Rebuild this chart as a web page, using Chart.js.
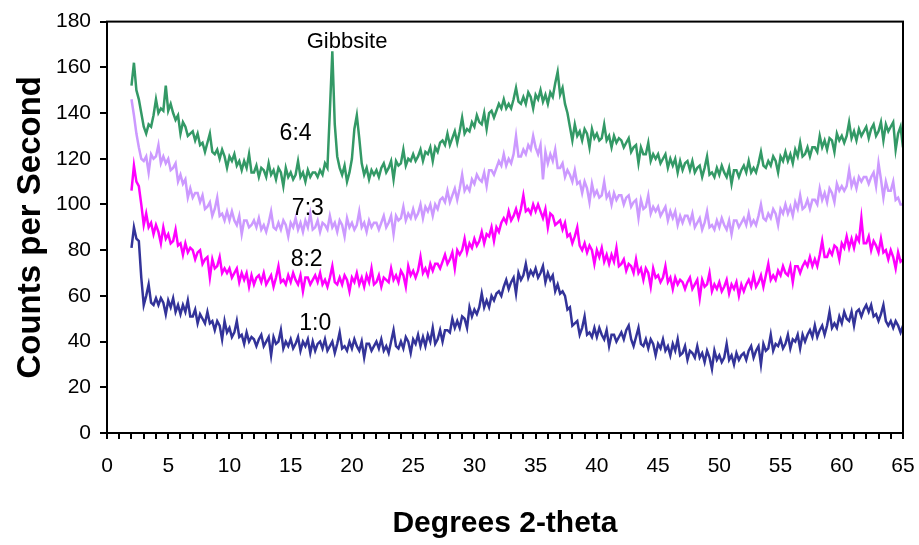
<!DOCTYPE html>
<html>
<head>
<meta charset="utf-8">
<title>XRD patterns</title>
<script src="https://cdn.jsdelivr.net/npm/chart.js@4.4.1/dist/chart.umd.min.js"></script>
<style>
  html, body { margin: 0; padding: 0; background: #fff; }
</style>
</head>
<body>
<canvas id="xrdChart" width="919" height="545"></canvas>
<script>
// scan grid: 2.0 to 65.0 degrees 2-theta, 0.2 degree step
const scanStart = 2;
const scanStep = 0.2;
const scanPoints = 316;

// counts per second, one row per 5 degrees (last row 62.0-65.0)
const counts10 = [
  81, 90, 85, 84, 68, 56, 60, 65, 57, 56, 59, 56, 59, 57, 52, 58, 55, 59, 53, 56, 52, 56, 53, 58, 51,
  51, 54, 48, 52, 50, 48, 53, 48, 49, 45, 49, 47, 41, 49, 44, 46, 42, 44, 49, 42, 43, 39, 44, 40, 42,
  41, 38, 41, 43, 38, 40, 42, 34, 42, 39, 40, 45, 37, 40, 38, 41, 37, 39, 42, 36, 40, 38, 41, 35, 40,
  36, 39, 40, 37, 41, 36, 38, 40, 35, 39, 44, 37, 38, 36, 40, 37, 41, 38, 36, 40, 33, 39, 39, 36, 38,
  40, 37, 41, 36, 38, 35, 40, 45, 38, 37, 40, 37, 42, 40, 35, 41, 39, 43, 38, 42, 38, 43, 40, 46, 39,
  41, 45, 40, 45, 45, 44, 50, 46, 49, 46, 51, 50, 46, 55, 51, 54, 52, 55, 61, 55, 58, 55, 60, 58, 61,
  62, 60, 64, 67, 63, 66, 68, 61, 70, 67, 69, 74, 68, 71, 69, 72, 68, 70, 73, 66, 70, 67, 69, 62, 65,
  61, 62, 60, 54, 55, 47, 48, 49, 43, 46, 51, 43, 44, 42, 46, 42, 46, 43, 41, 45, 38, 43, 43, 40, 42,
  44, 41, 45, 47, 41, 38, 42, 46, 39, 38, 41, 37, 41, 39, 34, 39, 37, 41, 36, 38, 34, 39, 36, 41, 34,
  35, 38, 32, 36, 35, 33, 38, 33, 35, 31, 36, 33, 28, 36, 32, 34, 31, 33, 39, 32, 34, 30, 35, 32, 34,
  35, 32, 36, 38, 33, 36, 38, 30, 39, 36, 37, 43, 36, 39, 38, 41, 37, 39, 43, 37, 41, 40, 43, 37, 43,
  40, 43, 45, 42, 47, 42, 45, 47, 43, 47, 53, 46, 48, 46, 51, 48, 53, 50, 49, 53, 47, 53, 54, 51, 54,
  56, 53, 56, 51, 52, 49, 52, 56, 49, 47, 49, 46, 49, 47, 44, 47
];

const counts82 = [
  106, 117, 110, 108, 100, 91, 96, 90, 92, 87, 91, 88, 83, 90, 85, 87, 83, 84, 89, 82, 83, 78, 83, 79, 81,
  80, 76, 79, 80, 74, 76, 77, 68, 76, 72, 73, 77, 70, 72, 70, 72, 68, 70, 72, 66, 70, 67, 70, 64, 69,
  65, 68, 69, 66, 70, 65, 67, 69, 64, 68, 73, 66, 67, 65, 69, 66, 70, 67, 65, 69, 62, 68, 68, 65, 67,
  69, 66, 70, 65, 67, 64, 68, 73, 66, 65, 68, 65, 69, 67, 62, 68, 66, 70, 65, 68, 64, 69, 66, 72, 65,
  66, 69, 64, 68, 67, 66, 72, 67, 69, 66, 71, 69, 64, 73, 69, 71, 68, 71, 77, 70, 72, 69, 74, 71, 74,
  74, 72, 75, 78, 74, 76, 79, 72, 80, 78, 80, 85, 79, 83, 81, 85, 82, 84, 88, 83, 87, 86, 90, 84, 90,
  88, 92, 94, 92, 97, 93, 95, 98, 94, 98, 104, 97, 98, 96, 100, 97, 100, 97, 94, 98, 90, 96, 95, 91, 92,
  93, 89, 92, 86, 87, 83, 86, 90, 82, 80, 83, 79, 82, 80, 74, 80, 77, 81, 75, 78, 74, 78, 75, 81, 73,
  74, 76, 71, 74, 73, 70, 76, 70, 72, 67, 72, 70, 64, 72, 68, 69, 66, 68, 73, 66, 68, 63, 68, 65, 67,
  66, 63, 66, 68, 63, 65, 67, 59, 67, 64, 65, 70, 62, 65, 63, 66, 62, 64, 67, 61, 65, 63, 66, 60, 65,
  62, 65, 67, 64, 69, 64, 66, 69, 64, 69, 74, 67, 69, 67, 71, 69, 73, 70, 69, 73, 66, 73, 73, 70, 73,
  75, 73, 77, 73, 76, 73, 78, 84, 77, 77, 80, 78, 82, 81, 76, 83, 81, 86, 81, 85, 81, 86, 84, 94, 83,
  83, 86, 80, 84, 82, 79, 85, 79, 80, 76, 80, 77, 72, 79, 75, 76
];

const counts73 = [
  146, 139, 131, 125, 120, 119, 121, 114, 122, 120, 121, 126, 118, 121, 118, 120, 115, 116, 118, 110, 113, 109, 111, 103, 107,
  103, 105, 105, 101, 104, 98, 99, 101, 95, 98, 103, 95, 96, 93, 97, 93, 97, 93, 91, 95, 87, 93, 93, 90, 91,
  93, 90, 94, 89, 91, 88, 92, 97, 90, 89, 92, 89, 93, 91, 86, 92, 90, 94, 89, 92, 88, 93, 90, 96, 89,
  90, 93, 88, 92, 91, 89, 95, 90, 92, 88, 93, 91, 86, 94, 90, 92, 89, 91, 97, 90, 92, 88, 93, 90, 92,
  92, 89, 92, 95, 90, 92, 95, 87, 95, 93, 94, 99, 93, 96, 94, 98, 94, 96, 100, 94, 99, 97, 100, 95, 100,
  98, 102, 103, 101, 106, 101, 104, 107, 102, 107, 113, 106, 108, 106, 111, 109, 113, 111, 110, 114, 108, 115, 115, 113, 116,
  119, 117, 122, 117, 120, 118, 122, 130, 121, 121, 124, 122, 126, 124, 130, 125, 122, 126, 111, 123, 118, 122, 119, 124, 116,
  116, 118, 112, 115, 113, 110, 115, 109, 110, 105, 110, 107, 101, 109, 104, 106, 103, 104, 110, 103, 105, 100, 105, 102, 104,
  104, 100, 103, 104, 99, 101, 102, 94, 102, 98, 99, 104, 96, 99, 97, 99, 95, 97, 99, 93, 97, 94, 97, 91, 95,
  92, 95, 95, 92, 96, 90, 92, 94, 89, 92, 97, 90, 91, 89, 93, 90, 94, 91, 89, 93, 87, 93, 93, 90, 92,
  94, 91, 96, 91, 93, 91, 95, 100, 94, 93, 96, 94, 98, 96, 91, 98, 96, 100, 96, 99, 95, 101, 98, 104, 98,
  99, 102, 98, 102, 102, 100, 107, 102, 105, 101, 107, 105, 101, 109, 106, 108, 106, 108, 115, 108, 111, 107, 112, 110, 112,
  112, 109, 112, 114, 108, 118, 111, 103, 110, 106, 106, 110, 102, 103, 100, 100
];

const counts64 = [
  152, 162, 150, 146, 140, 134, 131, 135, 134, 139, 146, 140, 142, 141, 152, 141, 144, 140, 137, 139, 131, 136, 134, 130, 131,
  132, 128, 131, 126, 127, 123, 127, 131, 123, 122, 124, 120, 124, 121, 116, 121, 119, 122, 117, 119, 115, 119, 116, 122, 114,
  114, 117, 112, 116, 115, 112, 118, 113, 115, 111, 116, 114, 108, 116, 112, 114, 111, 113, 119, 112, 114, 110, 115, 112, 114,
  114, 112, 115, 113, 118, 116, 141, 167, 135, 121, 116, 113, 117, 110, 114, 120, 133, 139, 129, 118, 113, 116, 111, 115, 113,
  115, 112, 116, 118, 114, 116, 119, 111, 119, 117, 118, 124, 117, 120, 119, 122, 119, 121, 124, 119, 123, 122, 125, 119, 125,
  123, 127, 128, 126, 131, 126, 129, 132, 127, 132, 138, 131, 133, 132, 136, 134, 139, 136, 135, 140, 133, 140, 141, 138, 141,
  144, 142, 146, 142, 144, 142, 146, 151, 145, 144, 147, 144, 149, 147, 142, 148, 146, 150, 145, 148, 144, 149, 147, 153, 158,
  148, 151, 144, 140, 134, 128, 135, 130, 132, 128, 133, 131, 125, 133, 129, 131, 128, 129, 135, 128, 130, 125, 130, 127, 129,
  128, 125, 127, 129, 123, 125, 126, 118, 125, 122, 122, 127, 119, 122, 120, 122, 118, 120, 122, 116, 120, 117, 120, 114, 119,
  115, 118, 119, 115, 119, 114, 116, 117, 112, 116, 121, 113, 114, 112, 116, 113, 117, 114, 112, 116, 109, 115, 115, 112, 115,
  117, 114, 119, 114, 116, 114, 118, 123, 117, 116, 119, 117, 121, 119, 114, 121, 119, 123, 119, 122, 118, 124, 121, 127, 121,
  122, 125, 121, 125, 125, 123, 130, 125, 128, 124, 129, 128, 123, 131, 128, 130, 127, 130, 136, 129, 132, 128, 133, 130, 132,
  134, 129, 133, 135, 130, 132, 136, 128, 135, 132, 134, 136, 124, 131, 134, 125
];

const sampleLabels = ['1:0', '8:2', '7:3', '6:4'];
const sampleColors = ['#333399', '#ff00ff', '#cc99ff', '#339966'];
const sampleCounts = [counts10, counts82, counts73, counts64];

// where each curve's ratio label sits, in axis units [2-theta, counts]
const labelSpots = [[17.0, 48], [16.3, 76], [16.4, 98], [15.4, 131]];
const peakNote = { text: 'Gibbsite', at: [19.6, 171] };

const twoTheta = [];
for (let i = 0; i < scanPoints; i++) twoTheta.push(+(scanStart + i * scanStep).toFixed(2));

const FONT = '"Liberation Sans", Arial, Helvetica, sans-serif';

// box round the plot area
const frame = {
  id: 'frame',
  afterDraw(chart) {
    const { ctx, chartArea: a } = chart;
    ctx.save();
    ctx.strokeStyle = '#000';
    ctx.lineWidth = 2;
    ctx.strokeRect(a.left, a.top, a.right - a.left, a.bottom - a.top);
    ctx.restore();
  }
};

// ratio labels next to the curves and the gibbsite note
const curveLabels = {
  id: 'curveLabels',
  afterDatasetsDraw(chart) {
    const { ctx, scales } = chart;
    ctx.save();
    ctx.fillStyle = '#000';
    ctx.font = '23px ' + FONT;
    ctx.textAlign = 'center';
    ctx.textBaseline = 'middle';
    labelSpots.forEach((p, i) => {
      ctx.fillText(sampleLabels[i], scales.x.getPixelForValue(p[0]), scales.y.getPixelForValue(p[1]));
    });
    ctx.font = '22px ' + FONT;
    ctx.fillText(peakNote.text, scales.x.getPixelForValue(peakNote.at[0]), scales.y.getPixelForValue(peakNote.at[1]));
    ctx.restore();
  }
};

const ctx = document.getElementById('xrdChart').getContext('2d');

new Chart(ctx, {
  type: 'line',
  data: {
    datasets: sampleCounts.map((vals, i) => ({
      label: sampleLabels[i],
      data: twoTheta.map((x, j) => ({ x: x, y: vals[j] })),
      borderColor: sampleColors[i],
      borderWidth: 2.5,
      pointRadius: 0,
      tension: 0,
      fill: false
    }))
  },
  options: {
    responsive: false,
    animation: false,
    layout: { padding: { top: 20, right: 16, left: 0, bottom: 0 } },
    plugins: {
      legend: { display: false },
      tooltip: { enabled: false }
    },
    scales: {
      x: {
        type: 'linear',
        min: 0,
        max: 65,
        ticks: {
          stepSize: 1,
          autoSkip: false,
          maxRotation: 0,
          color: '#000',
          padding: 15,
          font: { family: FONT, size: 21 },
          callback: v => (v % 5 === 0 ? v : '')
        },
        grid: { drawOnChartArea: false, tickLength: 6, color: '#000', lineWidth: 2 },
        border: { color: '#000', width: 2 },
        title: {
          display: true,
          text: 'Degrees 2-theta',
          color: '#000',
          padding: 3,
          font: { family: FONT, size: 30, weight: 'bold' }
        },
        afterFit: s => {
          s.height = 112;
          s.paddingLeft = 0;
          s.paddingRight = 0;
        }
      },
      y: {
        min: 0,
        max: 180,
        ticks: {
          stepSize: 10,
          color: '#000',
          padding: 9,
          font: { family: FONT, size: 21 },
          callback: v => (v % 20 === 0 ? v : '')
        },
        grid: { drawOnChartArea: false, tickLength: 7, color: '#000', lineWidth: 2 },
        border: { color: '#000', width: 2 },
        title: {
          display: true,
          text: 'Counts per Second',
          color: '#000',
          padding: 11,
          font: { family: FONT, size: 33, weight: 'bold' }
        },
        afterFit: s => { s.width = 107; }
      }
    }
  },
  plugins: [frame, curveLabels]
});
</script>
</body>
</html>
